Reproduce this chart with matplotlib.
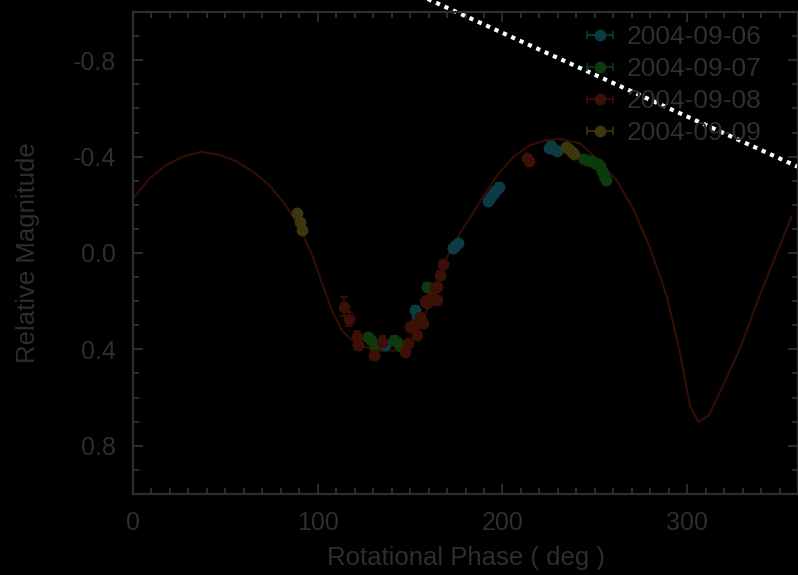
import matplotlib
matplotlib.use("Agg")
import matplotlib.pyplot as plt
from matplotlib.ticker import MultipleLocator, FormatStrFormatter
from matplotlib.container import ErrorbarContainer

plt.rcParams['font.family'] = ['Liberation Sans', 'DejaVu Sans']
plt.rcParams['axes.unicode_minus'] = False

TXT = '#2e2e2e'

# model lightcurve (phase in deg, relative magnitude)
fit_phase = [0, 9, 18, 27, 37, 47, 56, 65, 74, 83, 90, 97, 103, 108, 113, 118,
             124, 132, 142, 148, 152, 156, 161, 168, 172, 178, 184, 190, 197,
             206, 215, 224, 231, 242, 252, 262, 271, 280, 289, 296, 301.5, 306,
             311.5, 320, 329, 338, 347, 356.5]
fit_mag = [-0.225, -0.31, -0.365, -0.40, -0.42, -0.407, -0.38, -0.337, -0.28,
           -0.195, -0.11, 0.01, 0.14, 0.245, 0.32, 0.36, 0.385, 0.405, 0.405,
           0.39, 0.36, 0.30, 0.195, 0.043, -0.01, -0.095, -0.165, -0.24, -0.32,
           -0.40, -0.448, -0.469, -0.473, -0.455, -0.385, -0.30, -0.18, -0.02,
           0.18, 0.41, 0.635, 0.70, 0.676, 0.541, 0.389, 0.202, 0.029, -0.151]

# observations per night
ph_0906 = [136.4, 152.6, 153.6, 173, 174.5, 176, 192, 193.5, 195, 196.5, 198,
           225, 226.5, 228, 229.5]
mag_0906 = [0.38, 0.237, 0.264, -0.02, -0.03, -0.04, -0.215, -0.23, -0.245,
            -0.26, -0.275, -0.435, -0.445, -0.43, -0.425]
err_0906 = [0.015] * len(ph_0906)

ph_0907 = [127.4, 129, 131, 141.5, 142.7, 144.5, 159, 244, 246, 248, 250,
           251.5, 253, 254, 255, 256]
mag_0907 = [0.347, 0.36, 0.38, 0.36, 0.37, 0.385, 0.14, -0.39, -0.385, -0.38,
            -0.375, -0.37, -0.36, -0.34, -0.32, -0.305]
err_0907 = [0.015] * len(ph_0907)

ph_0908 = [114.0, 116.8, 121.2, 122, 130.3, 134.6, 147.2, 149, 150, 151.7,
           153.6, 155.4, 157.2, 158, 159, 160.8, 161.7, 163.5, 164.4, 164.4,
           166.2, 168, 213.5, 214.5]
mag_0908 = [0.223, 0.275, 0.35, 0.382, 0.423, 0.368, 0.41, 0.375, 0.306, 0.30,
            0.34, 0.264, 0.29, 0.2, 0.209, 0.188, 0.181, 0.147, 0.195, 0.14,
            0.091, 0.047, -0.395, -0.38]
err_0908 = [0.04, 0.03, 0.025, 0.02, 0.02, 0.025, 0.015, 0.015, 0.015, 0.015,
            0.015, 0.015, 0.015, 0.015, 0.015, 0.015, 0.015, 0.015, 0.015,
            0.015, 0.015, 0.015, 0.01, 0.01]

ph_0909 = [88.8, 90.4, 91.5, 234.5, 236, 237.5, 238.5]
mag_0909 = [-0.166, -0.129, -0.095, -0.44, -0.43, -0.42, -0.41]
err_0909 = [0.01] * len(ph_0909)

series = [
    ('2004-09-06', ph_0906, mag_0906, err_0906, '#0b3c44'),
    ('2004-09-07', ph_0907, mag_0907, err_0907, '#0c3a0c'),
    ('2004-09-08', ph_0908, mag_0908, err_0908, '#3c1006'),
    ('2004-09-09', ph_0909, mag_0909, err_0909, '#3a380c'),
]

# dotted guide line across the upper right
guide_x = [150, 370]
guide_y = [-1.0875, -0.323]

fig = plt.figure(figsize=(7.98, 5.75), dpi=100, facecolor='black')
ax = fig.add_axes([0.1667, 0.141, 0.8333, 0.838])
ax.set_facecolor('black')

handles = []
for label, ph, mag, err, col in series:
    ec = ax.errorbar(ph, mag, yerr=err, xerr=[0] * len(ph), fmt='o', color=col,
                     ms=7.5, elinewidth=1.2, capsize=3, capthick=1.2, label=label)
    # legend shows only the horizontal bar, like the original
    handles.append(ErrorbarContainer(ec.lines, has_xerr=True, has_yerr=False,
                                     label=label))

ax.plot(fit_phase, fit_mag, color='#320d06', lw=1.6)
ax.plot(guide_x, guide_y, color='white', lw=3, ls=(0, (1, 1.2)), clip_on=False)

ax.set_xlim(0, 360)
ax.set_ylim(1.0, -1.0)
ax.xaxis.set_major_locator(MultipleLocator(100))
ax.xaxis.set_minor_locator(MultipleLocator(10))
ax.yaxis.set_major_locator(MultipleLocator(0.4))
ax.yaxis.set_minor_locator(MultipleLocator(0.1))
ax.yaxis.set_major_formatter(FormatStrFormatter('%.1f'))

for s in ax.spines.values():
    s.set_color(TXT)
    s.set_linewidth(1.6)
ax.tick_params(which='both', direction='in', top=True, right=True,
               colors=TXT, labelsize=18, width=1.4)
ax.tick_params(which='major', length=7)
ax.tick_params(axis='x', which='major', pad=12)
ax.tick_params(axis='y', which='major', pad=12)
ax.tick_params(which='minor', length=4)

ax.set_xlabel('Rotational Phase ( deg )', fontsize=18.5, color=TXT, labelpad=8)
ax.set_ylabel('Relative Magnitude', fontsize=18.5, color=TXT, labelpad=24)

leg = ax.legend(handles=handles, loc='upper right', frameon=False, fontsize=19,
                handlelength=0.8, handletextpad=0.6, labelspacing=0.3,
                borderaxespad=0.1, bbox_to_anchor=(0.965, 1.0))
for t in leg.get_texts():
    t.set_color(TXT)

fig.savefig('out.png', dpi=100, facecolor='black')
